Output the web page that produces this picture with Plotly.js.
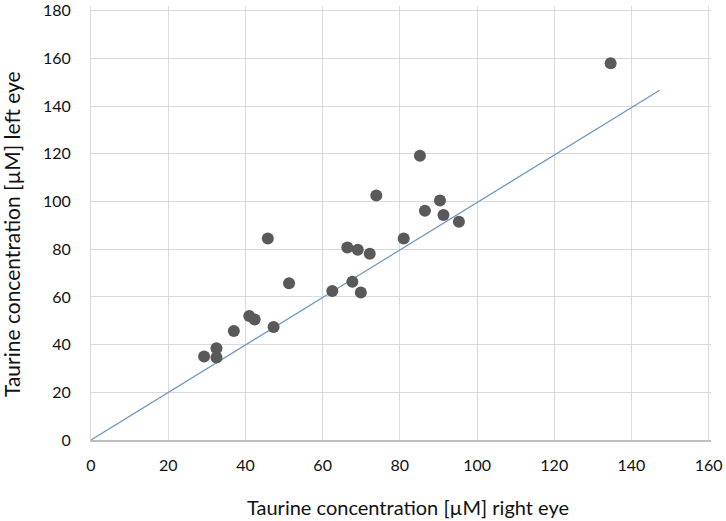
<!DOCTYPE html>
<html><head><meta charset="utf-8">
<script src="https://cdn.plot.ly/plotly-3.0.1.min.js"></script>
<style>html,body{margin:0;padding:0;background:#fff}#c{width:726px;height:521px}</style>
</head><body><div id="c"></div>
<script>
const rightEye = [29.3, 32.5, 32.5, 37.0, 41.0, 42.4, 47.3, 45.8, 51.3, 62.5, 67.7, 69.9, 66.4, 69.1, 72.2, 73.9, 81.0, 85.2, 86.5, 90.4, 91.3, 95.3, 134.6];
const leftEye  = [35.0, 38.5, 34.6, 45.7, 52.0, 50.5, 47.4, 84.5, 65.7, 62.5, 66.4, 61.9, 80.7, 79.8, 78.1, 102.5, 84.5, 119.2, 96.1, 100.4, 94.4, 91.5, 158.0];
const lineX = [0, 147.3];
const lineY = [0, 146.7];
const xTicks = [0, 20, 40, 60, 80, 100, 120, 140, 160];
const yTicks = [0, 20, 40, 60, 80, 100, 120, 140, 160, 180];
const xTitle = 'Taurine concentration [\u00b5M] right eye';
const yTitle = 'Taurine concentration [\u00b5M] left eye';

const font = {family: 'Lato, "Open Sans", sans-serif', color: '#111', size: 16};
const data = [
  {x: lineX, y: lineY, mode: 'lines', line: {color: '#6e93c8', width: 1.2}, hoverinfo: 'skip', showlegend: false},
  {x: rightEye, y: leftEye, mode: 'markers', marker: {color: '#595959', size: 12}, showlegend: false}
];
const layout = {
  width: 726, height: 521,
  margin: {l: 91, r: 15, t: 5.7, b: 80.7},
  paper_bgcolor: '#fff', plot_bgcolor: '#fff',
  font: font,
  showlegend: false,
  xaxis: {
    range: [0, 160.6], tickvals: xTicks, ticktext: xTicks.map(String),
    showgrid: true, gridcolor: '#d9d9d9', gridwidth: 1,
    showline: true, linecolor: '#bfbfbf', linewidth: 1.5,
    zeroline: false, ticks: '', ticklabelstandoff: 10,
    tickfont: {size: 16}, ticklabeloverflow: 'allow',
    automargin: false
  },
  yaxis: {
    range: [0, 182], tickvals: yTicks, ticktext: yTicks.map(String),
    showgrid: true, gridcolor: '#d9d9d9', gridwidth: 1,
    showline: true, linecolor: '#d9d9d9', linewidth: 1,
    zeroline: false, ticks: '', ticklabelstandoff: 16,
    tickfont: {size: 16}, ticklabeloverflow: 'allow',
    automargin: false
  },
  annotations: [
    {text: xTitle, xref: 'paper', yref: 'paper', x: 0.511, y: -0.155, xanchor: 'center', yanchor: 'middle', showarrow: false, font: {size: 20}},
    {text: yTitle, xref: 'paper', yref: 'paper', x: -0.127, y: 0.475, xanchor: 'center', yanchor: 'middle', textangle: -90, showarrow: false, font: {size: 21}}
  ]
};
Plotly.newPlot('c', data, layout, {staticPlot: true, displayModeBar: false});
</script></body></html>
